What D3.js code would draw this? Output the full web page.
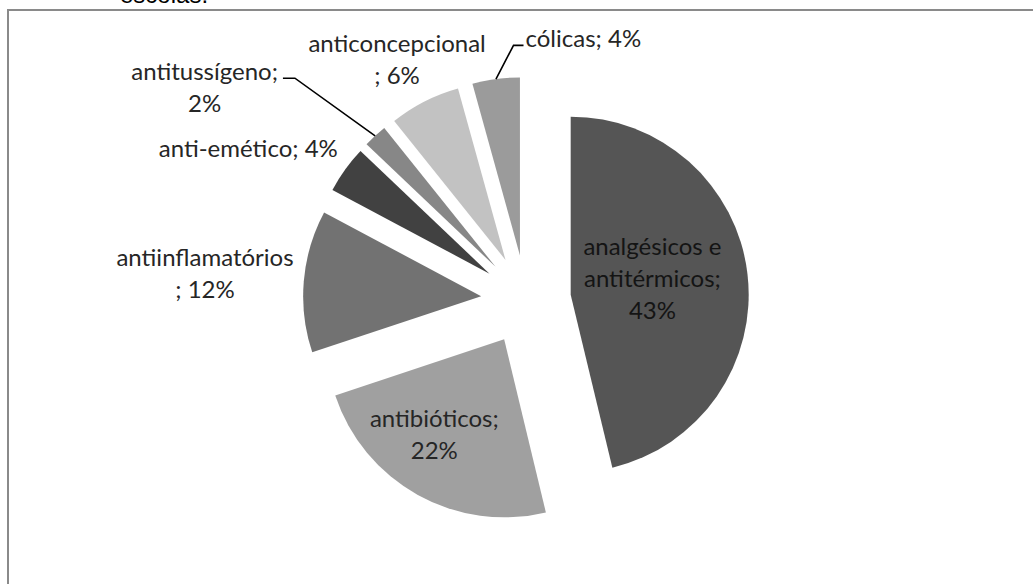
<!DOCTYPE html>
<html lang="pt">
  <head>
    <meta charset="UTF-8" />
    <title>Medicamentos</title>
    <script src="https://cdn.jsdelivr.net/npm/d3@7"></script>
    <style>
      body { margin: 0; background: #fff; }
      svg { display: block; }
    </style>
  </head>
  <body>
    <div class="chart"></div>
    <script>
    // data (values are the shown percentages)
    var categories = ["analgésicos e antitérmicos", "antibióticos", "antiinflamatórios",
                      "anti-emético", "antitussígeno", "anticoncepcional", "cólicas"];
    var values = [43, 22, 12, 4, 2, 6, 4];
    var labelLines = [
      ["analgésicos e", "antitérmicos;", "43%"],
      ["antibióticos;", "22%"],
      ["antiinflamatórios", "; 12%"],
      ["anti-emético; 4%"],
      ["antitussígeno;", "2%"],
      ["anticoncepcional", "; 6%"],
      ["cólicas; 4%"]
    ];
    var sliceColors = ["#555555", "#a0a0a0", "#727272", "#414141", "#878787", "#c2c2c2", "#9b9b9b"];

    // label placement: [angle in degrees from 12 o'clock, distance from pie centre]
    var labelPolar = [[81, 128], [214, 164], [274.5, 322], [298.5, 316], [303.4, 385], [331.7, 272], [12.4, 267]];
    // which labels get a leader line, and on what side of the text it attaches
    var leaders = { 4: "right", 6: "left" };

    var w = 1033, h = 584;
    var cx = 526, cy = 300, r = 178, explode = 45;
    var lineH = 32;

    var svg = d3.select(".chart").append("svg")
                .attr("width", w)
                .attr("height", h);

    // caption from the page above, cut off by the top edge
    svg.append("text")
       .attr("x", 120)
       .attr("y", 3)
       .attr("font-family", "Liberation Sans, Arial, sans-serif")
       .attr("font-size", 24)
       .attr("fill", "#000")
       .text("escolas.");

    // chart frame (right and bottom edges run off the picture)
    svg.append("rect")
       .attr("x", 8)
       .attr("y", 10)
       .attr("width", 1028)
       .attr("height", 600)
       .attr("fill", "none")
       .attr("stroke", "#8a8a8a")
       .attr("stroke-width", 2);

    var pie = d3.pie().sort(null).value(function(d) { return d; });
    var arc = d3.arc().innerRadius(0).outerRadius(r);
    var arcs = pie(values);

    function mid(d) { return (d.startAngle + d.endAngle) / 2; }
    function shift(d) {
      var a = mid(d);
      return [Math.sin(a) * explode, -Math.cos(a) * explode];
    }

    var g = svg.append("g").attr("transform", "translate(" + cx + "," + cy + ")");

    g.selectAll("path.slice")
     .data(arcs)
     .enter()
     .append("path")
     .attr("class", "slice")
     .attr("d", arc)
     .attr("transform", function(d) { var s = shift(d); return "translate(" + s[0] + "," + s[1] + ")"; })
     .attr("fill", function(d, i) { return sliceColors[i]; });

    // labels
    var labels = g.selectAll("text.lbl")
                  .data(arcs)
                  .enter()
                  .append("text")
                  .attr("class", "lbl")
                  .attr("font-family", "Lato, 'Noto Sans', sans-serif")
                  .attr("font-size", 24)
                  .attr("fill", function(d, i) { return i === 0 ? "#141414" : "#262626"; })
                  .attr("text-anchor", "middle");

    labels.each(function(d, i) {
      var a = labelPolar[i][0] * Math.PI / 180, dist = labelPolar[i][1];
      var lx = Math.sin(a) * dist, ly = -Math.cos(a) * dist;
      var lines = labelLines[i];
      var top = ly - (lines.length - 1) * lineH / 2;
      d3.select(this).selectAll("tspan")
        .data(lines)
        .enter()
        .append("tspan")
        .attr("x", lx)
        .attr("y", function(t, j) { return top + j * lineH + 7.5; })
        .text(function(t) { return t; });
    });

    // leader lines from the slice edge to the label
    labels.each(function(d, i) {
      if (!leaders[i]) return;
      var first = d3.select(this).select("tspan").node().getBBox();
      var s = shift(d), a = mid(d);
      var p0 = [s[0] + Math.sin(a) * r, s[1] - Math.cos(a) * r];
      var yEnd = first.y + first.height * 0.78;
      var xEnd, xElbow;
      if (leaders[i] === "right") {
        xEnd = first.x + first.width + 5;
        xElbow = xEnd + 12;
      } else {
        xEnd = first.x - 2;
        xElbow = xEnd - 10;
      }
      g.append("path")
       .attr("d", d3.line()([p0, [xElbow, yEnd], [xEnd, yEnd]]))
       .attr("fill", "none")
       .attr("stroke", "#000")
       .attr("stroke-width", 1.6);
    });
    </script>
  </body>
</html>
